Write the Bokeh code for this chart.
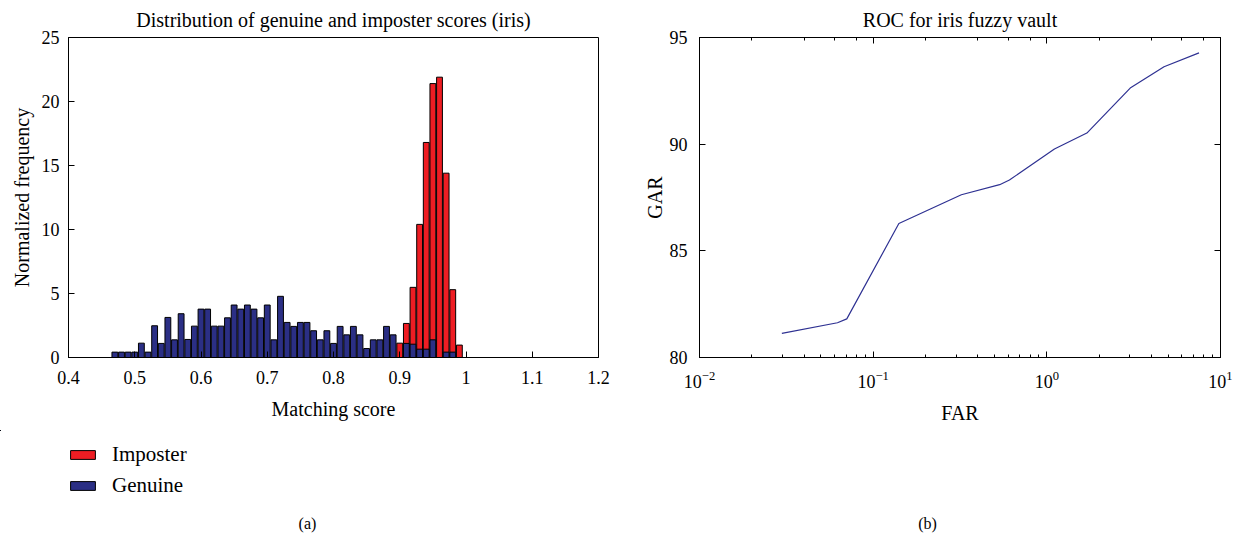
from bokeh.plotting import figure
from bokeh.layouts import row, column
from bokeh.models import (FixedTicker, NumeralTickFormatter, LinearAxis, LogAxis, Legend,
                          LegendItem, Label, Range1d, LogTicker, CustomJSTickFormatter)
from bokeh.embed import file_html
from bokeh.resources import INLINE

FONT = "Liberation Serif"
RED = "#EE1D23"
BLUE = "#2B2F85"
NAVY = "#2E3192"

# ---------------- data: histogram (a) ----------------
genuine_centers = [0.47, 0.48, 0.49, 0.50, 0.51, 0.52, 0.53, 0.54, 0.55, 0.56,
                   0.57, 0.58, 0.59, 0.60, 0.61, 0.62, 0.63, 0.64, 0.65, 0.66,
                   0.67, 0.68, 0.69, 0.70, 0.71, 0.72, 0.73, 0.74, 0.75, 0.76,
                   0.77, 0.78, 0.79, 0.80, 0.81, 0.82, 0.83, 0.84, 0.85, 0.86,
                   0.87, 0.88, 0.89, 0.91, 0.92, 0.93, 0.94, 0.95, 0.97, 0.98]
genuine_freq = [0.42, 0.42, 0.42, 0.42, 1.12, 0.42, 2.48, 1.10, 3.13, 1.38,
                3.42, 1.41, 2.45, 3.78, 3.78, 2.45, 2.45, 3.10, 4.10, 3.78,
                4.10, 3.78, 3.10, 4.10, 1.38, 4.78, 2.74, 2.43, 2.74, 2.74,
                2.09, 1.38, 2.09, 1.10, 2.43, 1.77, 2.43, 1.77, 0.70, 1.38,
                1.38, 2.43, 1.77, 1.10, 1.04, 0.65, 0.65, 1.38, 0.42, 0.42]
imposter_centers = [0.90, 0.91, 0.92, 0.93, 0.94, 0.95, 0.96, 0.97, 0.98, 0.99]
imposter_freq = [1.12, 2.66, 5.48, 10.4, 16.8, 21.4, 21.9, 14.4, 5.3, 0.97]
hist_x_ticks = [0.4, 0.5, 0.6, 0.7, 0.8, 0.9, 1.0, 1.1, 1.2]
hist_y_ticks = [0, 5, 10, 15, 20, 25]
legend_labels = ["Imposter", "Genuine"]

# ---------------- data: ROC (b) ----------------
far = [0.0298, 0.0623, 0.0705, 0.1406, 0.322, 0.535, 0.609, 1.106, 1.70, 3.02, 4.73, 7.52]
gar = [81.13, 81.63, 81.81, 86.28, 87.63, 88.10, 88.32, 89.77, 90.52, 92.63, 93.63, 94.28]
roc_y_ticks = [80, 85, 90, 95]

panel_tags = ["(a)", "(b)"]


def style_axis(ax, tick_size="18px"):
    ax.major_label_text_font = FONT
    ax.major_label_text_font_size = tick_size
    ax.major_label_text_color = "black"
    ax.axis_label_text_font = FONT
    ax.axis_label_text_font_size = "20px"
    ax.axis_label_text_font_style = "normal"
    ax.axis_label_text_color = "black"
    ax.axis_line_color = "black"
    ax.axis_line_width = 1
    ax.major_tick_line_color = "black"
    ax.major_tick_in = 6
    ax.major_tick_out = 0
    ax.minor_tick_line_color = None


def style_title(p):
    p.title.text_font = FONT
    p.title.text_font_size = "20px"
    p.title.text_font_style = "normal"
    p.title.text_color = "black"
    p.title.align = "center"
    p.title.standoff = 13


def hide_labels(ax):
    ax.formatter = CustomJSTickFormatter(code="return ''")
    ax.major_label_standoff = 0
    ax.major_label_text_font_size = "2px"


TOP_H = 430

# ---------------- left panel ----------------
left = figure(width=640, height=TOP_H, output_backend="svg", toolbar_location=None,
              x_range=Range1d(0.4, 1.2), y_range=Range1d(0, 25),
              min_border_left=68, min_border_right=42, min_border_top=37,
              min_border_bottom=TOP_H - 37 - 320,
              title="Distribution of genuine and imposter scores (iris)")
style_title(left)
left.grid.visible = False
left.outline_line_color = "black"
left.outline_line_alpha = 1
left.outline_line_width = 1
left.background_fill_color = "white"
left.border_fill_color = "white"

left.vbar(x=imposter_centers, top=imposter_freq, width=0.0088,
          fill_color=RED, line_color="black", line_width=1)
left.vbar(x=genuine_centers, top=genuine_freq, width=0.0088,
          fill_color=BLUE, line_color="black", line_width=1)

xa = left.xaxis[0]
ya = left.yaxis[0]
style_axis(xa)
style_axis(ya)
xa.ticker = FixedTicker(ticks=hist_x_ticks)
xa.formatter = NumeralTickFormatter(format="0.[0]")
ya.ticker = FixedTicker(ticks=hist_y_ticks)
xa.axis_label = "Matching score"
ya.axis_label = "Normalized frequency"
xa.major_label_standoff = 13
xa.axis_label_standoff = 11
ya.major_label_standoff = 9
ya.axis_label_standoff = 6

# ---------------- right panel ----------------
right = figure(width=605, height=TOP_H, output_backend="svg", toolbar_location=None,
               x_axis_type="log", x_range=Range1d(0.01, 10), y_range=Range1d(80, 95),
               min_border_left=57, min_border_right=25, min_border_top=37,
               min_border_bottom=TOP_H - 37 - 320,
               title="ROC for iris fuzzy vault")
style_title(right)
right.grid.visible = False
right.outline_line_color = "black"
right.outline_line_alpha = 1
right.background_fill_color = "white"
right.border_fill_color = "white"

right.line(far, gar, line_color=NAVY, line_width=1.2)

bx = right.xaxis[0]
by = right.yaxis[0]
style_axis(bx)
style_axis(by)
bx.minor_tick_line_color = "black"
bx.minor_tick_in = 3
bx.minor_tick_out = 0
bx.axis_label = "FAR"
by.axis_label = "GAR"
by.ticker = FixedTicker(ticks=roc_y_ticks)
bx.major_label_standoff = 13
bx.axis_label_standoff = 11
by.major_label_standoff = 12
by.axis_label_standoff = 1

top_ax = LogAxis(ticker=LogTicker())
style_axis(top_ax)
top_ax.minor_tick_line_color = "black"
top_ax.minor_tick_in = 3
top_ax.minor_tick_out = 0
hide_labels(top_ax)
right.add_layout(top_ax, "above")

right_ax = LinearAxis(ticker=FixedTicker(ticks=roc_y_ticks))
style_axis(right_ax)
hide_labels(right_ax)
right.add_layout(right_ax, "right")

# ---------------- bottom strip: legend of (a) and panel tags ----------------
# The strip's coordinates equal page pixels.  The histogram series are bound here
# to an off-strip x range, only so that the legend has real renderers for swatches.
bottom = figure(width=1245, height=542 - TOP_H, output_backend="svg", toolbar_location=None,
                x_range=Range1d(0, 1245), y_range=Range1d(542, TOP_H),
                min_border=0, min_border_left=0, min_border_right=0,
                min_border_top=0, min_border_bottom=0,
                x_axis_location=None, y_axis_location=None)
bottom.extra_x_ranges = {"offstrip": Range1d(50, 51)}
bottom.grid.visible = False
bottom.outline_line_color = None
bottom.background_fill_color = "white"
bottom.border_fill_color = "white"

sw_imp = bottom.vbar(x=imposter_centers, top=imposter_freq, width=0.0088,
                     fill_color=RED, line_color="black", line_width=1,
                     x_range_name="offstrip")
sw_gen = bottom.vbar(x=genuine_centers, top=genuine_freq, width=0.0088,
                     fill_color=BLUE, line_color="black", line_width=1,
                     x_range_name="offstrip")

legend = Legend(items=[LegendItem(label=legend_labels[0], renderers=[sw_imp]),
                       LegendItem(label=legend_labels[1], renderers=[sw_gen])],
                location=(67, 44), orientation="vertical", padding=0, margin=0,
                spacing=6, glyph_width=31, glyph_height=11, label_standoff=14,
                label_height=22, label_text_font=FONT, label_text_font_size="21px",
                label_text_color="black", border_line_color=None, background_fill_alpha=0)
bottom.add_layout(legend)

bottom.add_layout(Label(x=307, y=523, text=panel_tags[0], text_align="center",
                        text_baseline="middle", text_font=FONT, text_font_size="16px",
                        text_color="black"))
bottom.add_layout(Label(x=927, y=523, text=panel_tags[1], text_align="center",
                        text_baseline="middle", text_font=FONT, text_font_size="16px",
                        text_color="black"))

layout = column(row(left, right, spacing=0), bottom, spacing=0)
open("out.html", "w").write(file_html(layout, INLINE))
